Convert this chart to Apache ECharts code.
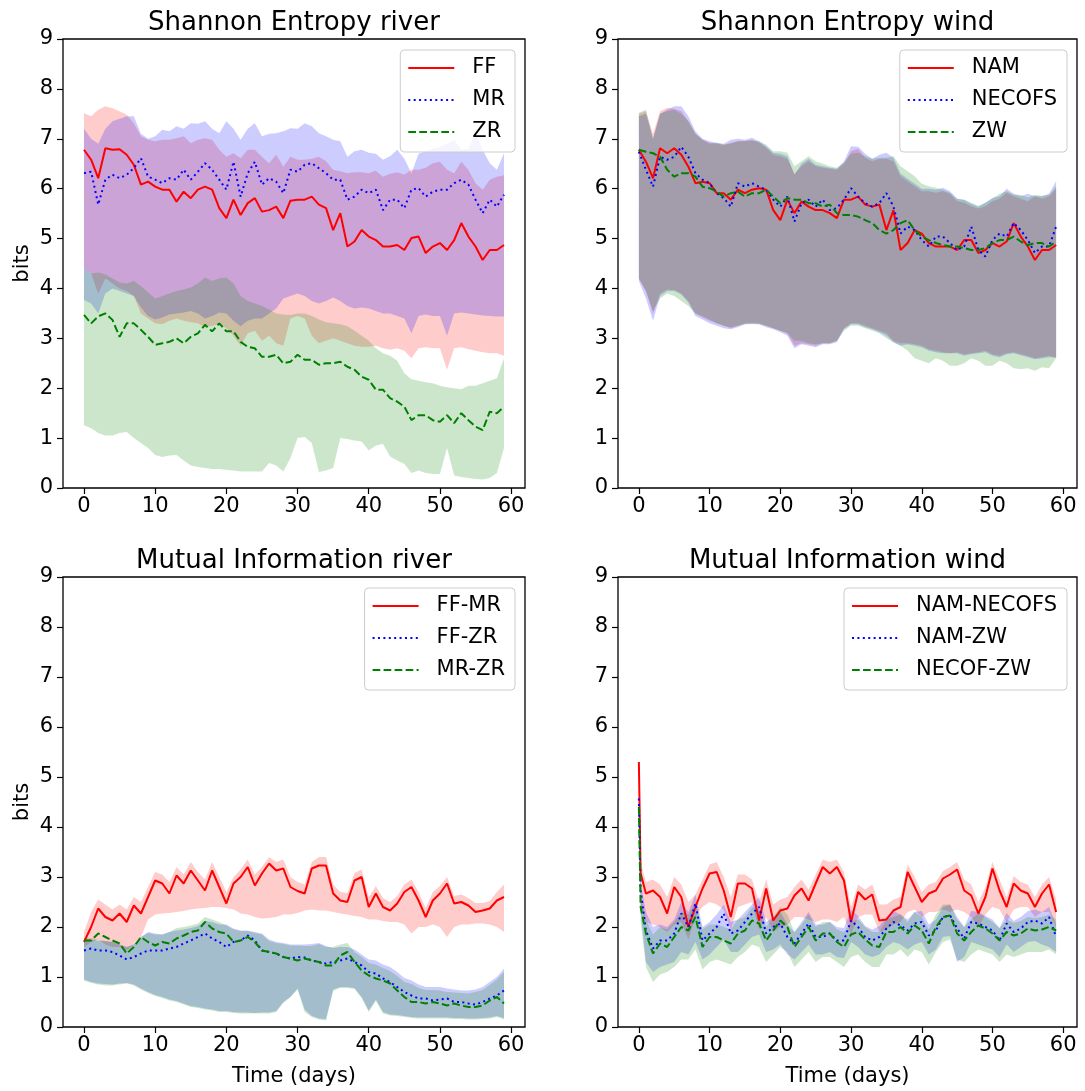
<!DOCTYPE html>
<html>
<head>
<meta charset="utf-8">
<script src="https://cdn.jsdelivr.net/npm/echarts@6/dist/echarts.min.js"></script>
<style>
  html, body { margin: 0; padding: 0; background: #fff; }
  #chart { width: 1085px; height: 1091px; }
</style>
</head>
<body>
<div id="chart"></div>
<script>
  // x values (days)
  const days = [];
  for (let d = 0; d < 60; d++) days.push(d);
  const daysMiWind = [0, 0.25].concat(days.slice(1));

  const xTicks = [0, 10, 20, 30, 40, 50, 60];
  const titles = ['Shannon Entropy river', 'Shannon Entropy wind', 'Mutual Information river', 'Mutual Information wind'];

  // ---- Shannon Entropy river ----
  const ffMean = [6.78,6.58,6.21,6.81,6.78,6.79,6.68,6.48,6.08,6.14, 6.04,5.98,5.98,5.74,5.94,5.81,5.98,6.04,5.98,5.61,
    5.41,5.78,5.47,5.71,5.81,5.54,5.57,5.64,5.41,5.76, 5.78,5.78,5.84,5.68,5.61,5.17,5.51,4.84,4.94,5.17,
    5.04,4.97,4.84,4.84,4.87,4.77,5.01,5.04,4.71,4.84, 4.91,4.77,4.97,5.31,5.04,4.84,4.57,4.77,4.77,4.87];
  const ffHi = [7.51,7.45,7.58,7.65,7.61,7.55,7.48,7.31,7.05,6.98, 6.95,6.98,6.98,7.01,7.05,6.91,6.98,7.01,6.98,6.78,
    6.64,6.71,6.61,6.78,6.78,6.64,6.51,6.68,6.44,6.64, 6.58,6.58,6.6,6.64,6.55,6.38,6.35,6.31,6.33,6.33,
    6.31,6.36,6.24,6.3,6.33,6.28,6.38,6.38,6.42,6.51, 6.54,6.38,6.31,6.54,6.38,6.11,5.98,6.18,6.24,6.27];
  const ffLo = [4.4,4.3,3.9,4.2,4.1,4.0,3.95,3.85,3.5,3.4, 3.3,3.28,3.35,3.4,3.35,3.32,3.3,3.22,3.25,3.28,
    3.2,3.05,2.85,3.1,3.15,2.95,3.05,2.9,2.85,3.4, 3.45,3.4,3.05,2.9,2.95,3.0,2.95,2.9,2.85,2.83,
    2.83,2.85,2.8,2.77,2.8,2.75,2.6,2.8,2.82,2.8, 2.8,2.37,2.8,2.82,2.78,2.75,2.72,2.7,2.7,2.65];
  const mrMean = [6.31,6.34,5.68,6.18,6.28,6.21,6.28,6.41,6.61,6.24, 6.18,6.11,6.21,6.18,6.38,6.18,6.34,6.51,6.38,6.18,
    5.98,6.54,5.84,6.31,6.54,6.08,6.21,6.14,5.91,6.38, 6.34,6.48,6.51,6.41,6.31,6.18,6.18,5.78,5.84,5.98,
    5.91,5.98,5.57,5.78,5.78,5.61,5.98,6.01,5.84,5.94, 5.98,5.98,6.11,6.18,6.08,5.78,5.51,5.78,5.64,5.88];
  const mrHi = [7.2,7.0,6.9,7.2,7.35,7.4,7.45,7.45,7.1,7.0, 7.05,7.18,7.15,7.25,7.2,7.31,7.3,7.35,7.2,7.11,
    7.35,7.2,6.98,7.2,7.31,7.05,7.1,7.11,7.15,7.21, 7.2,7.31,7.25,7.11,7.05,6.98,6.95,6.64,6.75,6.78,
    6.72,6.7,6.58,6.65,6.78,6.6,6.31,6.7,6.75,6.8, 6.84,6.9,6.98,6.78,6.8,7.11,6.78,6.51,6.38,6.71];
  const mrLo = [3.77,3.7,3.5,3.9,4.0,3.95,3.9,3.85,3.62,3.45, 3.38,3.42,3.48,3.5,3.52,3.55,3.5,3.4,3.45,3.52,
    3.5,3.35,3.24,3.35,3.4,3.4,3.5,3.6,3.8,3.85, 3.9,3.85,3.75,3.7,3.75,3.82,3.75,3.65,3.6,3.62,
    3.6,3.55,3.5,3.5,3.45,3.4,3.1,3.45,3.48,3.45, 3.45,3.05,3.5,3.52,3.5,3.48,3.46,3.45,3.44,3.44];
  const zrMean = [3.47,3.30,3.44,3.50,3.37,3.03,3.30,3.30,3.17,3.03, 2.87,2.90,2.93,3.00,2.90,3.03,3.10,3.27,3.14,3.30,
    3.14,3.14,2.93,2.83,2.80,2.63,2.63,2.67,2.50,2.53, 2.67,2.57,2.57,2.47,2.50,2.50,2.53,2.43,2.37,2.23,
    2.17,1.97,1.97,1.80,1.73,1.63,1.36,1.46,1.46,1.36, 1.33,1.46,1.30,1.50,1.36,1.23,1.16,1.53,1.50,1.63];
  const zrHi = [4.4,4.3,4.32,4.28,4.2,4.12,4.1,4.15,4.05,3.92, 3.8,3.85,3.9,3.95,3.98,4.02,4.1,4.22,4.15,4.2,
    4.22,4.1,3.85,3.75,3.7,3.65,3.58,3.5,3.48,3.47, 3.5,3.5,3.45,3.38,3.32,3.3,3.28,3.24,3.15,3.05,
    2.95,2.8,2.7,2.65,2.55,2.3,2.18,2.15,2.12,2.1, 2.05,2.02,2.0,1.98,2.05,2.05,2.1,2.15,2.2,2.6];
  const zrLo = [1.26,1.2,1.1,1.05,1.05,1.1,1.12,1.0,0.9,0.8, 0.66,0.62,0.65,0.66,0.55,0.45,0.42,0.4,0.38,0.38,
    0.36,0.35,0.33,0.33,0.33,0.33,0.5,0.45,0.33,0.6, 1.0,1.02,0.9,0.32,0.35,0.4,1.0,0.98,0.95,0.93,
    0.75,0.85,0.88,0.63,0.55,0.48,0.3,0.35,0.3,0.28, 0.28,0.8,0.25,0.22,0.2,0.18,0.17,0.2,0.3,0.8];

  // ---- Shannon Entropy wind ----
  const namMean = [6.78,6.54,6.21,6.81,6.71,6.81,6.68,6.44,6.11,6.14, 6.11,5.91,5.91,5.78,5.98,5.91,5.98,6.01,5.98,5.57,
    5.37,5.78,5.51,5.74,5.64,5.57,5.57,5.51,5.41,5.78, 5.78,5.84,5.68,5.64,5.68,5.17,5.57,4.77,4.91,5.17,
    5.1,4.91,4.84,4.84,4.84,4.77,4.97,4.97,4.71,4.77, 4.91,4.84,4.94,5.31,5.04,4.84,4.57,4.77,4.77,4.87];
  const namHi = [7.5,7.55,7.1,7.55,7.62,7.6,7.55,7.35,7.1,6.98, 6.92,6.9,6.88,6.92,6.95,6.96,6.98,6.92,6.82,6.68,
    6.65,6.6,6.3,6.45,6.55,6.45,6.42,6.4,6.38,6.5, 6.75,6.8,6.62,6.55,6.6,6.6,6.55,6.25,6.15,6.05,
    5.95,5.95,5.92,5.95,5.9,5.75,5.72,5.65,5.6,5.65, 5.75,5.8,5.92,5.85,5.8,5.75,5.85,5.8,5.85,6.0];
  const namLo = [4.2,3.95,3.5,3.9,3.98,3.97,3.9,3.75,3.5,3.42, 3.35,3.3,3.25,3.2,3.25,3.3,3.3,3.3,3.25,3.2,
    3.15,3.1,2.85,2.9,2.88,2.85,2.9,2.9,2.95,3.2, 3.3,3.3,3.25,3.2,3.15,3.1,2.95,2.9,2.9,2.88,
    2.85,2.78,2.75,2.72,2.7,2.72,2.68,2.7,2.72,2.75, 2.68,2.65,2.7,2.72,2.68,2.65,2.6,2.62,2.65,2.6];
  const necofsMean = [6.74,6.38,6.04,6.64,6.58,6.64,6.84,6.64,6.31,6.18, 6.11,5.91,5.81,5.64,6.11,6.04,6.11,6.04,5.98,5.78,
    5.64,5.84,5.34,5.71,5.78,5.64,5.78,5.57,5.61,5.78, 6.01,5.84,5.71,5.64,5.71,5.91,5.64,5.1,5.24,5.17,
    4.97,4.84,5.04,5.04,4.91,4.77,4.84,5.24,4.77,4.64, 4.97,5.1,5.04,5.31,5.17,4.97,4.71,4.84,4.84,5.24];
  const necofsHi = [7.45,7.5,7.0,7.5,7.58,7.65,7.65,7.45,7.15,7.0, 6.95,6.92,6.9,6.98,7.0,6.98,7.02,6.95,6.85,6.72,
    6.7,6.65,6.28,6.5,6.6,6.48,6.45,6.42,6.4,6.55, 6.85,6.84,6.7,6.6,6.68,6.72,6.62,6.3,6.2,6.1,
    6.0,6.0,5.98,6.02,5.95,5.8,5.78,5.7,5.64,5.72, 5.82,5.85,6.0,5.9,5.85,5.9,5.85,5.85,5.9,6.15];
  const necofsLo = [4.15,3.8,3.35,3.85,3.95,3.95,3.88,3.72,3.45,3.38, 3.3,3.25,3.2,3.18,3.22,3.28,3.28,3.28,3.22,3.18,
    3.12,3.05,2.8,2.88,2.85,2.82,2.88,2.88,2.92,3.18, 3.28,3.28,3.22,3.18,3.12,3.05,2.92,2.85,2.88,2.85,
    2.82,2.75,2.72,2.7,2.7,2.7,2.65,2.68,2.7,2.72, 2.65,2.62,2.68,2.7,2.66,2.62,2.58,2.6,2.62,2.62];
  const zwMean = [6.78,6.74,6.71,6.64,6.38,6.24,6.31,6.31,6.24,6.04, 6.01,5.94,5.84,5.91,5.94,5.84,5.91,5.91,5.98,5.84,
    5.71,5.81,5.78,5.78,5.71,5.71,5.64,5.68,5.51,5.47, 5.47,5.44,5.37,5.31,5.17,5.1,5.17,5.31,5.37,5.17,
    5.04,4.97,4.91,4.87,4.84,4.84,4.81,4.77,4.77,4.81, 4.91,4.97,4.97,5.04,4.94,4.87,4.91,4.91,4.84,4.94];
  const zwHi = [7.52,7.58,7.0,7.5,7.55,7.58,7.5,7.35,7.1,6.98, 6.9,6.92,6.88,6.9,6.95,6.95,6.96,6.95,6.88,6.75,
    6.75,6.72,6.45,6.55,6.65,6.55,6.5,6.45,6.42,6.52, 6.7,6.72,6.65,6.6,6.62,6.62,6.65,6.45,6.35,6.25,
    6.1,6.05,6.02,5.98,5.92,5.8,5.78,5.72,5.66,5.72, 5.8,5.9,5.95,5.88,5.88,5.82,5.88,5.86,5.88,6.05];
  const zwLo = [4.2,3.95,3.55,3.8,3.9,3.85,3.75,3.65,3.5,3.45, 3.38,3.3,3.25,3.22,3.25,3.28,3.3,3.28,3.25,3.2,
    3.15,3.1,2.95,2.95,2.9,2.88,2.9,2.9,2.95,3.15, 3.25,3.25,3.2,3.15,3.1,3.0,2.92,2.85,2.75,2.6,
    2.55,2.5,2.6,2.55,2.45,2.45,2.5,2.6,2.55,2.45, 2.45,2.55,2.5,2.4,2.38,2.4,2.35,2.42,2.4,2.6];

  // ---- Mutual Information river ----
  const ffmrMean = [1.7,2.0,2.37,2.2,2.13,2.27,2.1,2.43,2.27,2.6, 2.93,2.87,2.67,3.03,2.87,3.13,2.93,2.73,3.13,2.8,
    2.47,2.87,3.0,3.2,2.83,3.07,3.27,3.13,3.17,2.8, 2.72,2.67,3.17,3.23,3.23,2.67,2.53,2.5,2.93,3.0,
    2.4,2.67,2.4,2.33,2.47,2.7,2.8,2.53,2.2,2.53, 2.67,2.87,2.47,2.5,2.43,2.3,2.33,2.37,2.53,2.6];
  const ffmrHi = [1.9,2.3,2.55,2.45,2.35,2.45,2.35,2.6,2.5,2.8, 3.1,3.05,2.9,3.2,3.05,3.3,3.1,2.95,3.3,3.0,
    2.7,3.0,3.15,3.35,3.05,3.2,3.4,3.3,3.35,3.0, 2.9,2.85,3.3,3.4,3.4,2.85,2.7,2.68,3.08,3.15,
    2.6,2.82,2.58,2.5,2.62,2.85,2.95,2.7,2.38,2.7, 2.82,3.0,2.62,2.65,2.58,2.48,2.48,2.52,2.7,2.85];
  const ffmrLo = [1.6,1.7,1.75,1.65,1.6,1.6,1.53,1.65,1.8,2.15, 2.25,2.27,2.28,2.3,2.32,2.35,2.37,2.38,2.4,2.4,
    2.38,2.35,2.27,2.25,2.2,2.17,2.18,2.2,2.25,2.25, 2.28,2.33,2.35,2.33,2.33,2.3,2.27,2.25,2.22,2.2,
    2.15,2.15,2.12,2.1,2.1,2.05,1.87,2.0,2.0,2.05, 2.0,1.8,2.0,2.05,2.05,2.07,2.07,2.05,2.0,1.9];
  const ffzrMean = [1.53,1.57,1.53,1.53,1.5,1.43,1.35,1.4,1.47,1.53, 1.53,1.53,1.57,1.6,1.67,1.73,1.8,1.87,1.77,1.7,
    1.6,1.7,1.73,1.83,1.73,1.53,1.5,1.47,1.4,1.37, 1.4,1.39,1.33,1.3,1.27,1.3,1.33,1.37,1.3,1.23,
    1.1,1.07,0.97,0.9,0.8,0.7,0.63,0.57,0.57,0.53, 0.55,0.57,0.5,0.5,0.47,0.45,0.5,0.57,0.63,0.73];
  const ffzrHi = [1.75,1.75,1.72,1.72,1.7,1.65,1.6,1.65,1.8,1.9, 1.87,1.85,1.9,1.93,1.95,1.98,2.02,2.12,2.1,2.05,
    2.05,1.97,1.93,1.93,1.9,1.87,1.75,1.7,1.68,1.65, 1.65,1.65,1.66,1.68,1.62,1.58,1.6,1.6,1.55,1.45,
    1.35,1.33,1.25,1.2,1.1,0.98,0.93,0.85,0.8,0.8, 0.8,0.77,0.75,0.73,0.73,0.75,0.8,0.9,1.0,1.17];
  const ffzrLo = [0.95,0.9,0.87,0.86,0.85,0.87,0.88,0.85,0.77,0.7, 0.64,0.6,0.55,0.52,0.47,0.42,0.4,0.37,0.35,0.32,
    0.32,0.3,0.29,0.29,0.28,0.29,0.29,0.32,0.5,0.6, 0.77,0.35,0.22,0.17,0.16,0.75,0.8,0.8,0.78,0.6,
    0.33,0.55,0.3,0.25,0.24,0.22,0.2,0.19,0.19,0.19, 0.19,0.19,0.18,0.18,0.17,0.17,0.18,0.19,0.22,0.18];
  const mrzrMean = [1.73,1.73,1.87,1.8,1.73,1.67,1.47,1.6,1.8,1.7, 1.63,1.7,1.67,1.77,1.83,1.9,1.93,2.1,1.97,1.9,
    1.87,1.7,1.73,1.8,1.7,1.53,1.5,1.47,1.4,1.37, 1.33,1.37,1.33,1.3,1.23,1.23,1.43,1.5,1.3,1.13,
    1.03,0.97,0.93,0.87,0.73,0.6,0.5,0.5,0.47,0.5, 0.47,0.43,0.47,0.43,0.4,0.4,0.43,0.53,0.6,0.47];
  const mrzrHi = [1.78,1.78,1.75,1.72,1.7,1.65,1.6,1.65,1.8,1.88, 1.85,1.85,1.9,1.98,2.0,2.03,2.07,2.2,2.15,2.1,
    2.03,1.95,1.92,1.92,1.88,1.85,1.72,1.68,1.66,1.63, 1.63,1.62,1.62,1.66,1.6,1.6,1.65,1.68,1.5,1.4,
    1.28,1.25,1.18,1.12,1.02,0.9,0.86,0.78,0.74,0.74, 0.73,0.7,0.69,0.68,0.67,0.7,0.74,0.84,0.95,1.1];
  const mrzrLo = [0.93,0.88,0.85,0.83,0.83,0.85,0.87,0.83,0.75,0.68, 0.62,0.58,0.53,0.5,0.45,0.4,0.38,0.35,0.33,0.3,
    0.3,0.28,0.27,0.27,0.27,0.27,0.27,0.3,0.48,0.6, 0.75,0.3,0.2,0.15,0.13,0.72,0.78,0.78,0.76,0.58,
    0.3,0.52,0.27,0.23,0.22,0.2,0.18,0.17,0.17,0.17, 0.17,0.17,0.16,0.16,0.15,0.15,0.16,0.17,0.2,0.15];

  // ---- Mutual Information wind (x = daysMiWind) ----
  const nnMean = [5.3,3.07,
    2.67,2.73,2.6,2.27,2.8,2.6,2.0,2.4,2.77,
    3.07,3.1,2.73,2.2,2.87,2.87,2.77,2.13,2.77,2.13,
    2.33,2.37,2.63,2.77,2.53,2.87,3.2,3.07,3.2,2.93,
    2.1,2.7,2.55,2.65,2.13,2.15,2.33,2.4,3.1,2.8,
    2.5,2.67,2.73,2.97,3.05,3.15,2.73,2.63,2.27,2.6,
    3.17,2.73,2.4,2.87,2.73,2.67,2.4,2.67,2.85,2.3];
  const nnHi = [5.3,3.3,
    2.9,2.95,2.85,2.6,3.0,2.85,2.5,2.65,2.95,
    3.25,3.3,3.0,2.6,3.05,3.05,2.95,2.5,2.95,2.45,
    2.55,2.6,2.8,2.95,2.75,3.05,3.35,3.3,3.35,3.1,
    2.4,2.85,2.75,2.85,2.45,2.45,2.55,2.6,3.25,3.0,
    2.7,2.85,2.9,3.12,3.2,3.3,2.95,2.85,2.5,2.8,
    3.3,2.95,2.6,3.02,2.9,2.85,2.6,2.85,3.0,2.55];
  const nnLo = [5.0,2.4,
    2.1,2.05,2.0,1.9,2.05,2.1,1.75,2.2,2.4,
    2.5,2.45,2.35,1.95,2.4,2.45,2.5,1.95,2.2,1.9,
    2.0,2.05,2.2,2.2,2.15,2.1,2.15,2.15,2.1,2.2,
    1.85,2.2,2.25,2.25,1.9,1.95,2.05,2.1,2.3,2.35,
    2.2,2.3,2.3,2.35,2.3,2.35,2.3,2.2,2.0,2.25,
    2.4,2.35,2.1,2.35,2.4,2.4,2.2,2.3,2.3,2.0];
  const nzMean = [4.57,2.73,
    1.93,1.57,1.73,1.73,1.87,2.27,2.0,2.47,1.73,
    1.87,2.0,2.27,1.87,1.93,2.1,2.27,2.4,1.87,2.0,
    2.07,1.8,1.67,1.87,2.07,1.8,1.8,1.87,1.73,1.73,
    2.13,2.0,1.8,1.73,1.8,1.97,2.1,2.03,1.93,2.07,
    2.1,1.83,1.93,2.2,2.23,1.97,1.77,2.1,2.07,2.0,
    1.93,1.73,2.07,1.9,1.97,2.1,2.13,2.07,2.2,1.8];
  const nzHi = [4.6,2.9,
    2.3,2.0,2.05,2.0,2.15,2.5,2.3,2.65,2.0,
    2.1,2.25,2.45,2.1,2.15,2.3,2.45,2.6,2.1,2.2,
    2.3,2.05,1.9,2.1,2.3,2.05,2.05,2.1,2.0,1.98,
    2.35,2.22,2.02,1.95,2.02,2.2,2.32,2.25,2.15,2.3,
    2.32,2.05,2.15,2.4,2.45,2.2,2.0,2.32,2.3,2.22,
    2.15,1.98,2.28,2.12,2.2,2.32,2.35,2.3,2.4,2.05];
  const nzLo = [4.4,2.3,
    1.3,1.1,1.2,1.25,1.3,1.5,1.45,1.7,1.35,
    1.45,1.6,1.75,1.5,1.5,1.65,1.8,1.85,1.5,1.55,
    1.65,1.45,1.35,1.5,1.65,1.45,1.45,1.5,1.4,1.38,
    1.7,1.6,1.45,1.4,1.45,1.6,1.7,1.65,1.55,1.65,
    1.7,1.45,1.55,1.8,1.82,1.3,1.4,1.7,1.65,1.6,
    1.55,1.4,1.65,1.5,1.6,1.7,1.72,1.65,1.6,1.5];
  const nzwMean = [4.4,2.4,
    1.87,1.47,1.67,1.6,1.8,2.0,1.93,2.2,1.6,
    1.8,1.8,1.73,1.67,1.87,1.93,2.13,2.07,1.73,1.93,
    2.13,2.0,1.6,1.8,2.0,1.73,1.87,1.87,1.7,1.6,
    1.85,1.9,1.75,1.63,1.6,1.9,1.9,2.0,1.87,2.03,
    1.93,1.67,2.0,2.2,2.23,1.87,1.73,1.9,2.03,1.97,
    1.87,1.73,1.9,1.83,1.87,1.97,1.93,1.95,2.0,1.93];
  const nzwHi = [4.45,2.6,
    2.15,1.85,2.0,1.95,2.1,2.3,2.25,2.5,1.95,
    2.05,2.05,2.0,1.95,2.15,2.2,2.4,2.35,2.0,2.2,
    2.4,2.25,1.9,2.05,2.25,2.0,2.1,2.1,1.95,1.9,
    2.1,2.15,2.0,1.9,1.9,2.15,2.2,2.25,2.1,2.3,
    2.2,1.95,2.25,2.45,2.45,2.15,2.0,2.15,2.28,2.2,
    2.1,1.98,2.15,2.08,2.12,2.2,2.18,2.2,2.25,2.15];
  const nzwLo = [4.2,2.1,
    1.2,0.9,1.05,1.1,1.2,1.35,1.35,1.55,1.15,
    1.3,1.35,1.3,1.25,1.4,1.5,1.65,1.6,1.3,1.45,
    1.6,1.5,1.2,1.35,1.5,1.3,1.4,1.4,1.3,1.2,
    1.4,1.45,1.3,1.2,1.2,1.45,1.45,1.55,1.4,1.55,
    1.5,1.25,1.5,1.7,1.75,1.35,1.3,1.45,1.55,1.5,
    1.45,1.3,1.45,1.4,1.45,1.5,1.5,1.5,1.55,1.45];

  const FONT = 'DejaVu Sans';
  const RED = '#ff0000', BLUE = '#0000ff', GREEN = '#008000';
  const DOTTED = [2, 3.4], DASHED = [7.7, 3.3];

  const grids = [
    { left: 63, top: 39, width: 462, height: 449 },
    { left: 618, top: 39, width: 459, height: 449 },
    { left: 63, top: 577, width: 462, height: 450 },
    { left: 618, top: 577, width: 459, height: 450 }
  ];

  const pairs = (xs, ys) => xs.map((x, i) => [x, ys[i]]);

  const lineSeries = (name, idx, xs, ys, color, type) => ({
    type: 'line', name, xAxisIndex: idx, yAxisIndex: idx,
    data: pairs(xs, ys), symbol: 'none', z: 3, silent: true,
    lineStyle: { color, width: 2, type },
    itemStyle: { color }
  });

  // shaded spread between lo and hi, drawn through the axis scales
  const bandSeries = (name, idx, xs, hi, lo, rgb) => ({
    type: 'custom', name, xAxisIndex: idx, yAxisIndex: idx, z: 1, silent: true,
    data: [[xs[0], lo[0]]],
    renderItem: (params, api) => {
      const top = xs.map((x, i) => api.coord([x, hi[i]]));
      const bot = xs.map((x, i) => api.coord([x, lo[i]])).reverse();
      return { type: 'polygon', shape: { points: top.concat(bot) }, style: { fill: 'rgba(' + rgb + ',0.2)' } };
    }
  });

  const panels = [
    [['FF', days, ffMean, ffHi, ffLo, RED, 'solid', '255,0,0'],
     ['MR', days, mrMean, mrHi, mrLo, BLUE, DOTTED, '0,0,255'],
     ['ZR', days, zrMean, zrHi, zrLo, GREEN, DASHED, '0,128,0']],
    [['NAM', days, namMean, namHi, namLo, RED, 'solid', '255,0,0'],
     ['NECOFS', days, necofsMean, necofsHi, necofsLo, BLUE, DOTTED, '0,0,255'],
     ['ZW', days, zwMean, zwHi, zwLo, GREEN, DASHED, '0,128,0']],
    [['FF-MR', days, ffmrMean, ffmrHi, ffmrLo, RED, 'solid', '255,0,0'],
     ['FF-ZR', days, ffzrMean, ffzrHi, ffzrLo, BLUE, DOTTED, '0,0,255'],
     ['MR-ZR', days, mrzrMean, mrzrHi, mrzrLo, GREEN, DASHED, '0,128,0']],
    [['NAM-NECOFS', daysMiWind, nnMean, nnHi, nnLo, RED, 'solid', '255,0,0'],
     ['NAM-ZW', daysMiWind, nzMean, nzHi, nzLo, BLUE, DOTTED, '0,0,255'],
     ['NECOF-ZW', daysMiWind, nzwMean, nzwHi, nzwLo, GREEN, DASHED, '0,128,0']]
  ];

  const series = [];
  panels.forEach((p, idx) => {
    p.forEach(s => series.push(bandSeries(s[0] + ' band', idx, s[1], s[3], s[4], s[7])));
  });
  panels.forEach((p, idx) => {
    p.forEach(s => series.push(lineSeries(s[0], idx, s[1], s[2], s[5], s[6])));
  });

  const tickStyle = { show: true, length: 6, lineStyle: { color: '#000', width: 1.2 } };
  const labelStyle = { color: '#000', fontSize: 21, fontFamily: FONT };

  const xAxes = grids.map((g, i) => ({
    type: 'value', gridIndex: i, min: -2.95, max: 61.95,
    axisLine: { show: false, onZero: false },
    axisTick: Object.assign({ customValues: xTicks }, tickStyle),
    axisLabel: Object.assign({ customValues: xTicks, margin: 8 }, labelStyle),
    splitLine: { show: false },
    name: i >= 2 ? 'Time (days)' : '',
    nameLocation: 'middle', nameGap: 39,
    nameTextStyle: { color: '#000', fontSize: 21, fontFamily: FONT }
  }));

  const yAxes = grids.map((g, i) => ({
    type: 'value', gridIndex: i, min: 0, max: 9, interval: 1,
    axisLine: { show: false, onZero: false },
    axisTick: tickStyle,
    axisLabel: Object.assign({ margin: 10 }, labelStyle),
    splitLine: { show: false },
    name: i % 2 === 0 ? 'bits' : '',
    nameLocation: 'middle', nameGap: 30,
    nameTextStyle: { color: '#000', fontSize: 21, fontFamily: FONT }
  }));

  const titleCfg = titles.map((t, i) => ({
    text: t,
    left: grids[i].left + grids[i].width / 2 - 5,
    top: i < 2 ? 5 : 543,
    textAlign: 'center',
    textStyle: { color: '#000', fontSize: 26, fontWeight: 'normal', fontFamily: FONT }
  }));

  const legends = panels.map((p, i) => ({
    data: p.map(s => s[0]),
    orient: 'vertical',
    right: i % 2 === 0 ? 570 : 18,
    top: i < 2 ? 50 : 588,
    itemWidth: 46, itemHeight: 14, itemGap: 8,
    padding: [6, 10, 8, 7],
    borderColor: '#cccccc', borderWidth: 1, borderRadius: 4,
    backgroundColor: 'rgba(255,255,255,0.8)',
    selectedMode: false,
    itemStyle: { color: 'rgba(0,0,0,0)', borderWidth: 0, opacity: 0 },
    textStyle: { color: '#000', fontSize: 21, fontFamily: FONT, padding: [0, 0, 0, 13], lineHeight: 24 }
  }));

  const chart = echarts.init(document.getElementById('chart'), null, { renderer: 'canvas' });
  chart.setOption({
    animation: false,
    backgroundColor: '#fff',
    title: titleCfg,
    legend: legends,
    grid: grids.map(g => Object.assign({ show: true, borderColor: '#000', borderWidth: 1.3, backgroundColor: 'transparent' }, g)),
    xAxis: xAxes,
    yAxis: yAxes,
    series
  });
</script>
</body>
</html>
